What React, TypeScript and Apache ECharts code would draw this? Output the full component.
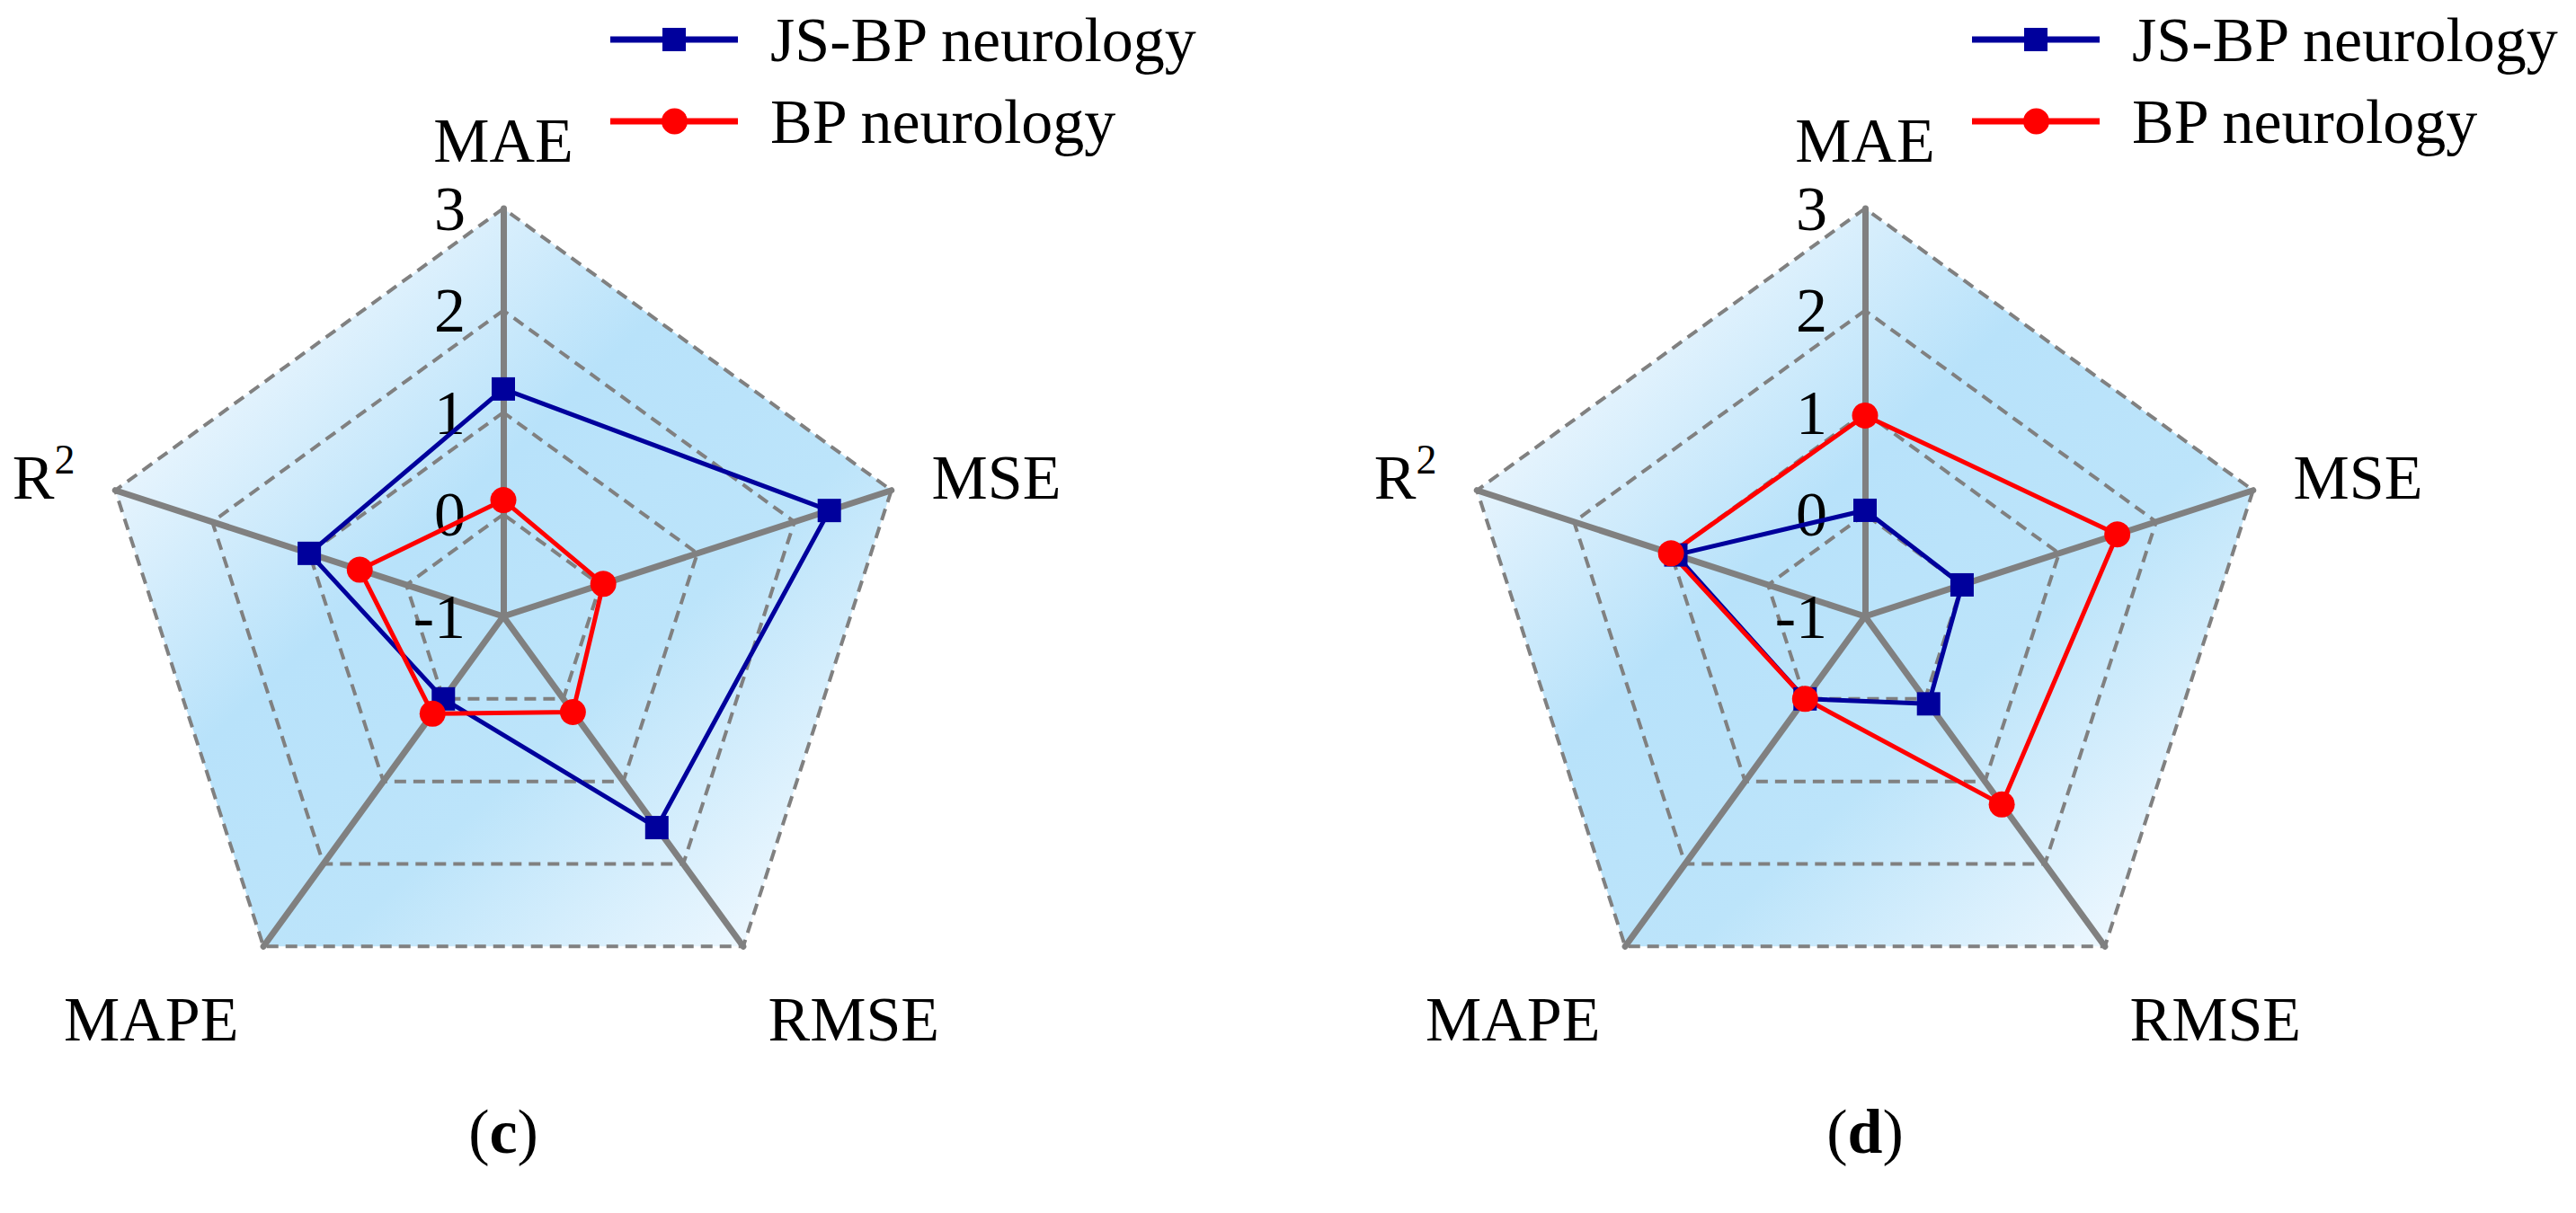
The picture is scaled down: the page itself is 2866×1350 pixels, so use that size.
import React, { useEffect, useRef } from 'react';
import * as echarts from 'echarts';

// Indicators in ECharts order (counter-clockwise starting at the top)
const indicatorNames = ['MAE', 'R²', 'MAPE', 'RMSE', 'MSE'];
const axisMin = -1;
const axisMax = 3;
const axisInterval = 1;

const seriesNames = ['JS-BP neurology', 'BP neurology'];

// Panel (c) values, same order as indicatorNames
const jsbpC = [1.23, 1.0, 0.0, 1.56, 2.36];
const bpC = [0.14, 0.48, 0.18, 0.16, 0.03];

// Panel (d) values
const jsbpD = [0.04, 0.95, 0.0, 0.06, 0.0];
const bpD = [0.97, 1.0, 0.0, 1.28, 1.6];

const panelLabels = ['c', 'd'];

const FONT = '"Liberation Serif", "Times New Roman", Times, serif';
const BLUE = '#00009c';
const RED = '#ff0000';
const GRAY = '#808080';

const iconSquare =
  'path://M0,0h0.05v0.05h-0.05z M0,11h142v7h-142z M58,1.5h26v26h-26z M141.95,28.95h0.05v0.05h-0.05z';
const iconCircle =
  'path://M0,0h0.05v0.05h-0.05z M0,11h142v7h-142z M57,14.5a14.5,14.5 0 1,1 29,0a14.5,14.5 0 1,1 -29,0z M141.95,28.95h0.05v0.05h-0.05z';

export default function App() {
  const ref = useRef<HTMLDivElement>(null);

  useEffect(() => {
    document.body.style.margin = '0';
    if (!ref.current) return;
    const chart = echarts.init(ref.current, undefined, { renderer: 'svg' });

    const cy = 686;
    const R = 454;
    const panels = [
      { cx: 560, label: panelLabels[0], jsbp: jsbpC, bp: bpC },
      { cx: 2075, label: panelLabels[1], jsbp: jsbpD, bp: bpD },
    ];

    const bgGradient = () =>
      new echarts.graphic.LinearGradient(0, 0, 1, 1, [
        { offset: 0, color: '#ffffff' },
        { offset: 0.2, color: '#e4f3fd' },
        { offset: 0.42, color: '#b8e2fa' },
        { offset: 0.64, color: '#bce4fa' },
        { offset: 0.95, color: '#f4faff' },
        { offset: 1, color: '#ffffff' },
      ]);

    const series: any[] = [];
    panels.forEach((p, idx) => {
      series.push({
        type: 'radar',
        name: 'background',
        radarIndex: idx,
        z: -1,
        silent: true,
        symbol: 'none',
        lineStyle: { width: 0, opacity: 0 },
        areaStyle: { color: bgGradient(), opacity: 1 },
        data: [{ value: indicatorNames.map(() => axisMax) }],
      });
      series.push({
        type: 'radar',
        name: seriesNames[0],
        radarIndex: idx,
        symbol: 'rect',
        symbolSize: 26,
        itemStyle: { color: BLUE },
        lineStyle: { color: BLUE, width: 5 },
        data: [{ value: p.jsbp, name: seriesNames[0] }],
      });
      series.push({
        type: 'radar',
        name: seriesNames[1],
        radarIndex: idx,
        symbol: 'circle',
        symbolSize: 29,
        itemStyle: { color: RED },
        lineStyle: { color: RED, width: 5 },
        data: [{ value: p.bp, name: seriesNames[1] }],
      });
    });

    const option: any = {
      animation: false,
      backgroundColor: '#ffffff',
      title: panels.map((p) => ({
        text: '({b|' + p.label + '})',
        left: p.cx,
        top: 1224,
        textAlign: 'center',
        padding: 0,
        textStyle: {
          fontFamily: FONT,
          fontSize: 70,
          fontWeight: 'normal',
          color: '#000',
          lineHeight: 70,
          rich: {
            b: { fontFamily: FONT, fontSize: 70, fontWeight: 'bold', color: '#000', lineHeight: 70 },
          },
        },
      })),
      legend: panels.map((p) => ({
        data: [
          { name: seriesNames[0], icon: iconSquare },
          { name: seriesNames[1], icon: iconCircle },
        ],
        orient: 'vertical',
        left: p.cx + 119,
        top: 9,
        itemWidth: 142,
        itemHeight: 29,
        itemGap: 21,
        padding: 0,
        selectedMode: false,
        itemStyle: { borderWidth: 0 },
        textStyle: {
          fontFamily: FONT,
          fontSize: 70,
          color: '#000',
          lineHeight: 70,
          padding: [0, 0, 0, 31],
        },
      })),
      radar: panels.map((p) => ({
        center: [p.cx, cy],
        radius: R,
        startAngle: 90,
        shape: 'polygon',
        splitNumber: (axisMax - axisMin) / axisInterval,
        axisNameGap: 47,
        indicator: indicatorNames.map((name, i) => ({
          name,
          min: axisMin,
          max: axisMax,
          ...(i === 0 ? { axisLabel: { show: true } } : {}),
        })),
        axisName: {
          color: '#000',
          fontSize: 70,
          fontFamily: FONT,
          lineHeight: 86,
          formatter: (name: string) => {
            if (name === 'R²') return 'R{sup|2}';
            if (name === 'MAE') return '{top|MAE}';
            if (name === 'RMSE' || name === 'MAPE') return '\n' + name;
            return name;
          },
          rich: {
            sup: { fontSize: 46, lineHeight: 46, verticalAlign: 'top', color: '#000', fontFamily: FONT },
            top: { fontSize: 70, lineHeight: 58, color: '#000', fontFamily: FONT },
          },
        },
        axisLine: { lineStyle: { color: GRAY, width: 7 } },
        splitLine: { lineStyle: { color: GRAY, width: 4, type: [13, 8] } },
        splitArea: { show: false },
        axisTick: { show: false },
        axisLabel: {
          show: false,
          margin: 42,
          fontSize: 70,
          color: '#000',
          fontFamily: FONT,
          showMinLabel: true,
          showMaxLabel: true,
        },
      })),
      series,
    };

    chart.setOption(option);
    return () => {
      chart.dispose();
    };
  }, []);

  return <div ref={ref} style={{ width: 2866, height: 1350 }} />;
}
